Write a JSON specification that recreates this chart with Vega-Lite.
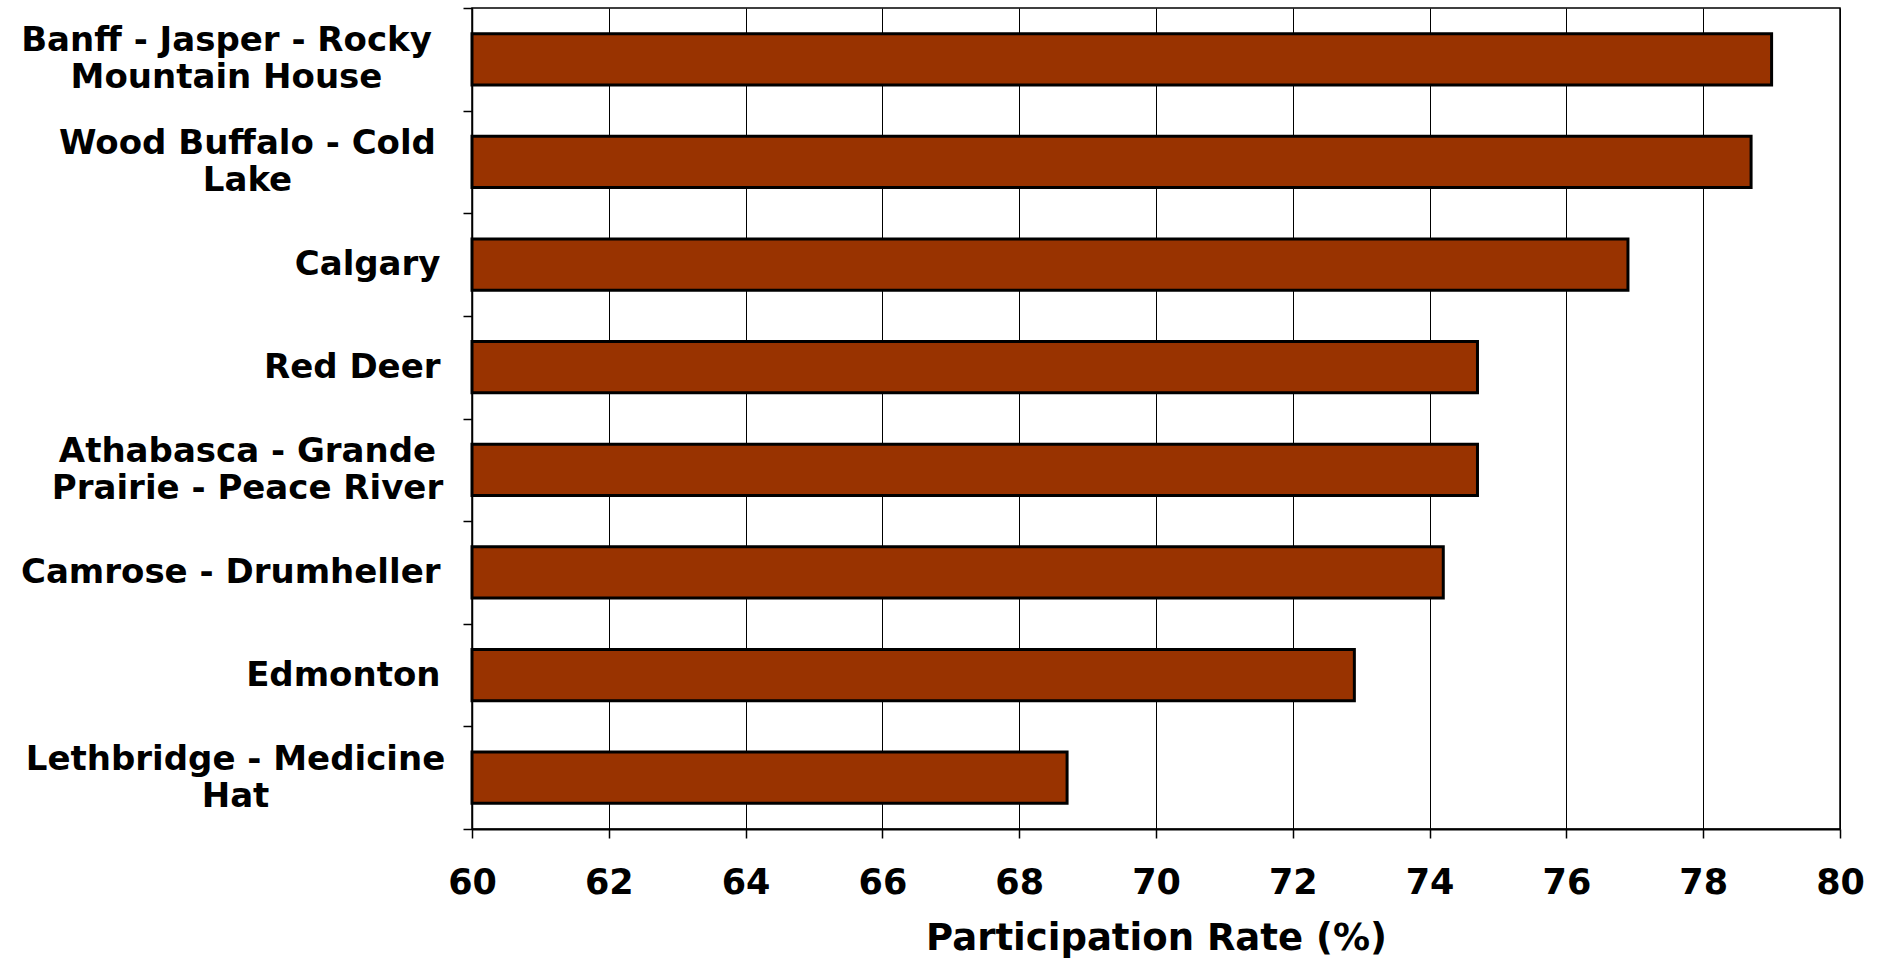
{
  "$schema": "https://vega.github.io/schema/vega-lite/v6.json",
  "autosize": "none",
  "padding": {"left": 472, "top": 8, "right": 43, "bottom": 129},
  "width": 1368,
  "height": 821,
  "background": "white",
  "config": {"view": {"stroke": "black", "strokeWidth": 1.5}, "font": "DejaVu Sans"},
  "data": {
    "values": [
      {"region": "Banff -  Jasper - Rocky\nMountain House", "rate": 79.0},
      {"region": "Wood Buffalo - Cold\nLake", "rate": 78.7},
      {"region": "Calgary", "rate": 76.9},
      {"region": "Red Deer", "rate": 74.7},
      {"region": "Athabasca - Grande\nPrairie - Peace River", "rate": 74.7},
      {"region": "Camrose - Drumheller", "rate": 74.2},
      {"region": "Edmonton", "rate": 72.9},
      {"region": "Lethbridge - Medicine\nHat", "rate": 68.7}
    ]
  },
  "encoding": {
    "x": {
      "field": "rate",
      "type": "quantitative",
      "scale": {"domain": [60, 80], "zero": false, "nice": false},
      "axis": {
        "title": "Participation Rate (%)",
        "values": [60, 62, 64, 66, 68, 70, 72, 74, 76, 78, 80],
        "grid": true,
        "gridColor": "black",
        "gridWidth": 1,
        "gridOpacity": 1,
        "tickColor": "black",
        "tickSize": 9,
        "tickWidth": 1.5,
        "domainColor": "black",
        "domainWidth": 2,
        "labelFont": "DejaVu Sans",
        "labelFontWeight": "bold",
        "labelFontSize": 35,
        "labelColor": "black",
        "labelPadding": 27,
        "labelFlush": false,
        "titleFont": "DejaVu Sans",
        "titleFontWeight": "bold",
        "titleFontSize": 37,
        "titleColor": "black",
        "titlePadding": 20
      }
    },
    "x2": {"datum": 60}
  },
  "layer": [
    {
      "mark": {"type": "bar", "color": "#993300", "stroke": "black", "strokeWidth": 3, "height": {"band": 0.5}},
      "encoding": {
        "y": {
          "field": "region",
          "type": "nominal",
          "scale": {
            "domain": [
              "Banff -  Jasper - Rocky\nMountain House",
              "Wood Buffalo - Cold\nLake",
              "Calgary",
              "Red Deer",
              "Athabasca - Grande\nPrairie - Peace River",
              "Camrose - Drumheller",
              "Edmonton",
              "Lethbridge - Medicine\nHat"
            ],
            "paddingInner": 0,
            "paddingOuter": 0
          },
          "axis": {
            "title": null,
            "orient": "left",
            "tickBand": "extent",
            "tickColor": "black",
            "tickSize": 9,
            "tickWidth": 1.5,
            "domainColor": "black",
            "domainWidth": 1.5,
            "labelExpr": "indexof(datum.label, '\\n') >= 0 ? '' : datum.label",
            "labelFont": "DejaVu Sans",
            "labelFontWeight": "bold",
            "labelFontSize": 34,
            "labelColor": "black",
            "labelLimit": 600,
            "labelPadding": 23
          }
        }
      }
    },
    {
      "transform": [{"filter": "indexof(datum.region, 'Banff') >= 0"}],
      "mark": {"type": "bar", "opacity": 0, "height": {"band": 0.5}},
      "encoding": {
        "y": {
          "field": "region",
          "type": "nominal",
          "axis": {
            "title": null,
            "orient": "left",
            "domain": false,
            "tickOpacity": 0,
            "tickSize": 9,
            "labelExpr": "indexof(datum.label, 'Banff') >= 0 ? split(datum.label, '\\n') : ''",
            "labelFont": "DejaVu Sans",
            "labelFontWeight": "bold",
            "labelFontSize": 34,
            "labelColor": "black",
            "labelLineHeight": 37,
            "labelLimit": 600,
            "labelAlign": "center",
            "labelOffset": -18,
            "labelPadding": 237
          }
        }
      }
    },
    {
      "transform": [{"filter": "indexof(datum.region, 'Wood') >= 0 || indexof(datum.region, 'Athabasca') >= 0"}],
      "mark": {"type": "bar", "opacity": 0, "height": {"band": 0.5}},
      "encoding": {
        "y": {
          "field": "region",
          "type": "nominal",
          "axis": {
            "title": null,
            "orient": "left",
            "domain": false,
            "tickOpacity": 0,
            "tickSize": 9,
            "labelExpr": "indexof(datum.label, 'Wood') >= 0 || indexof(datum.label, 'Athabasca') >= 0 ? split(datum.label, '\\n') : ''",
            "labelFont": "DejaVu Sans",
            "labelFontWeight": "bold",
            "labelFontSize": 34,
            "labelColor": "black",
            "labelLineHeight": 37,
            "labelLimit": 600,
            "labelAlign": "center",
            "labelOffset": -18,
            "labelPadding": 216
          }
        }
      }
    },
    {
      "transform": [{"filter": "indexof(datum.region, 'Lethbridge') >= 0"}],
      "mark": {"type": "bar", "opacity": 0, "height": {"band": 0.5}},
      "encoding": {
        "y": {
          "field": "region",
          "type": "nominal",
          "axis": {
            "title": null,
            "orient": "left",
            "domain": false,
            "tickOpacity": 0,
            "tickSize": 9,
            "labelExpr": "indexof(datum.label, 'Lethbridge') >= 0 ? split(datum.label, '\\n') : ''",
            "labelFont": "DejaVu Sans",
            "labelFontWeight": "bold",
            "labelFontSize": 34,
            "labelColor": "black",
            "labelLineHeight": 37,
            "labelLimit": 600,
            "labelAlign": "center",
            "labelOffset": -18,
            "labelPadding": 228
          }
        }
      }
    }
  ],
  "resolve": {"axis": {"y": "independent"}}
}
